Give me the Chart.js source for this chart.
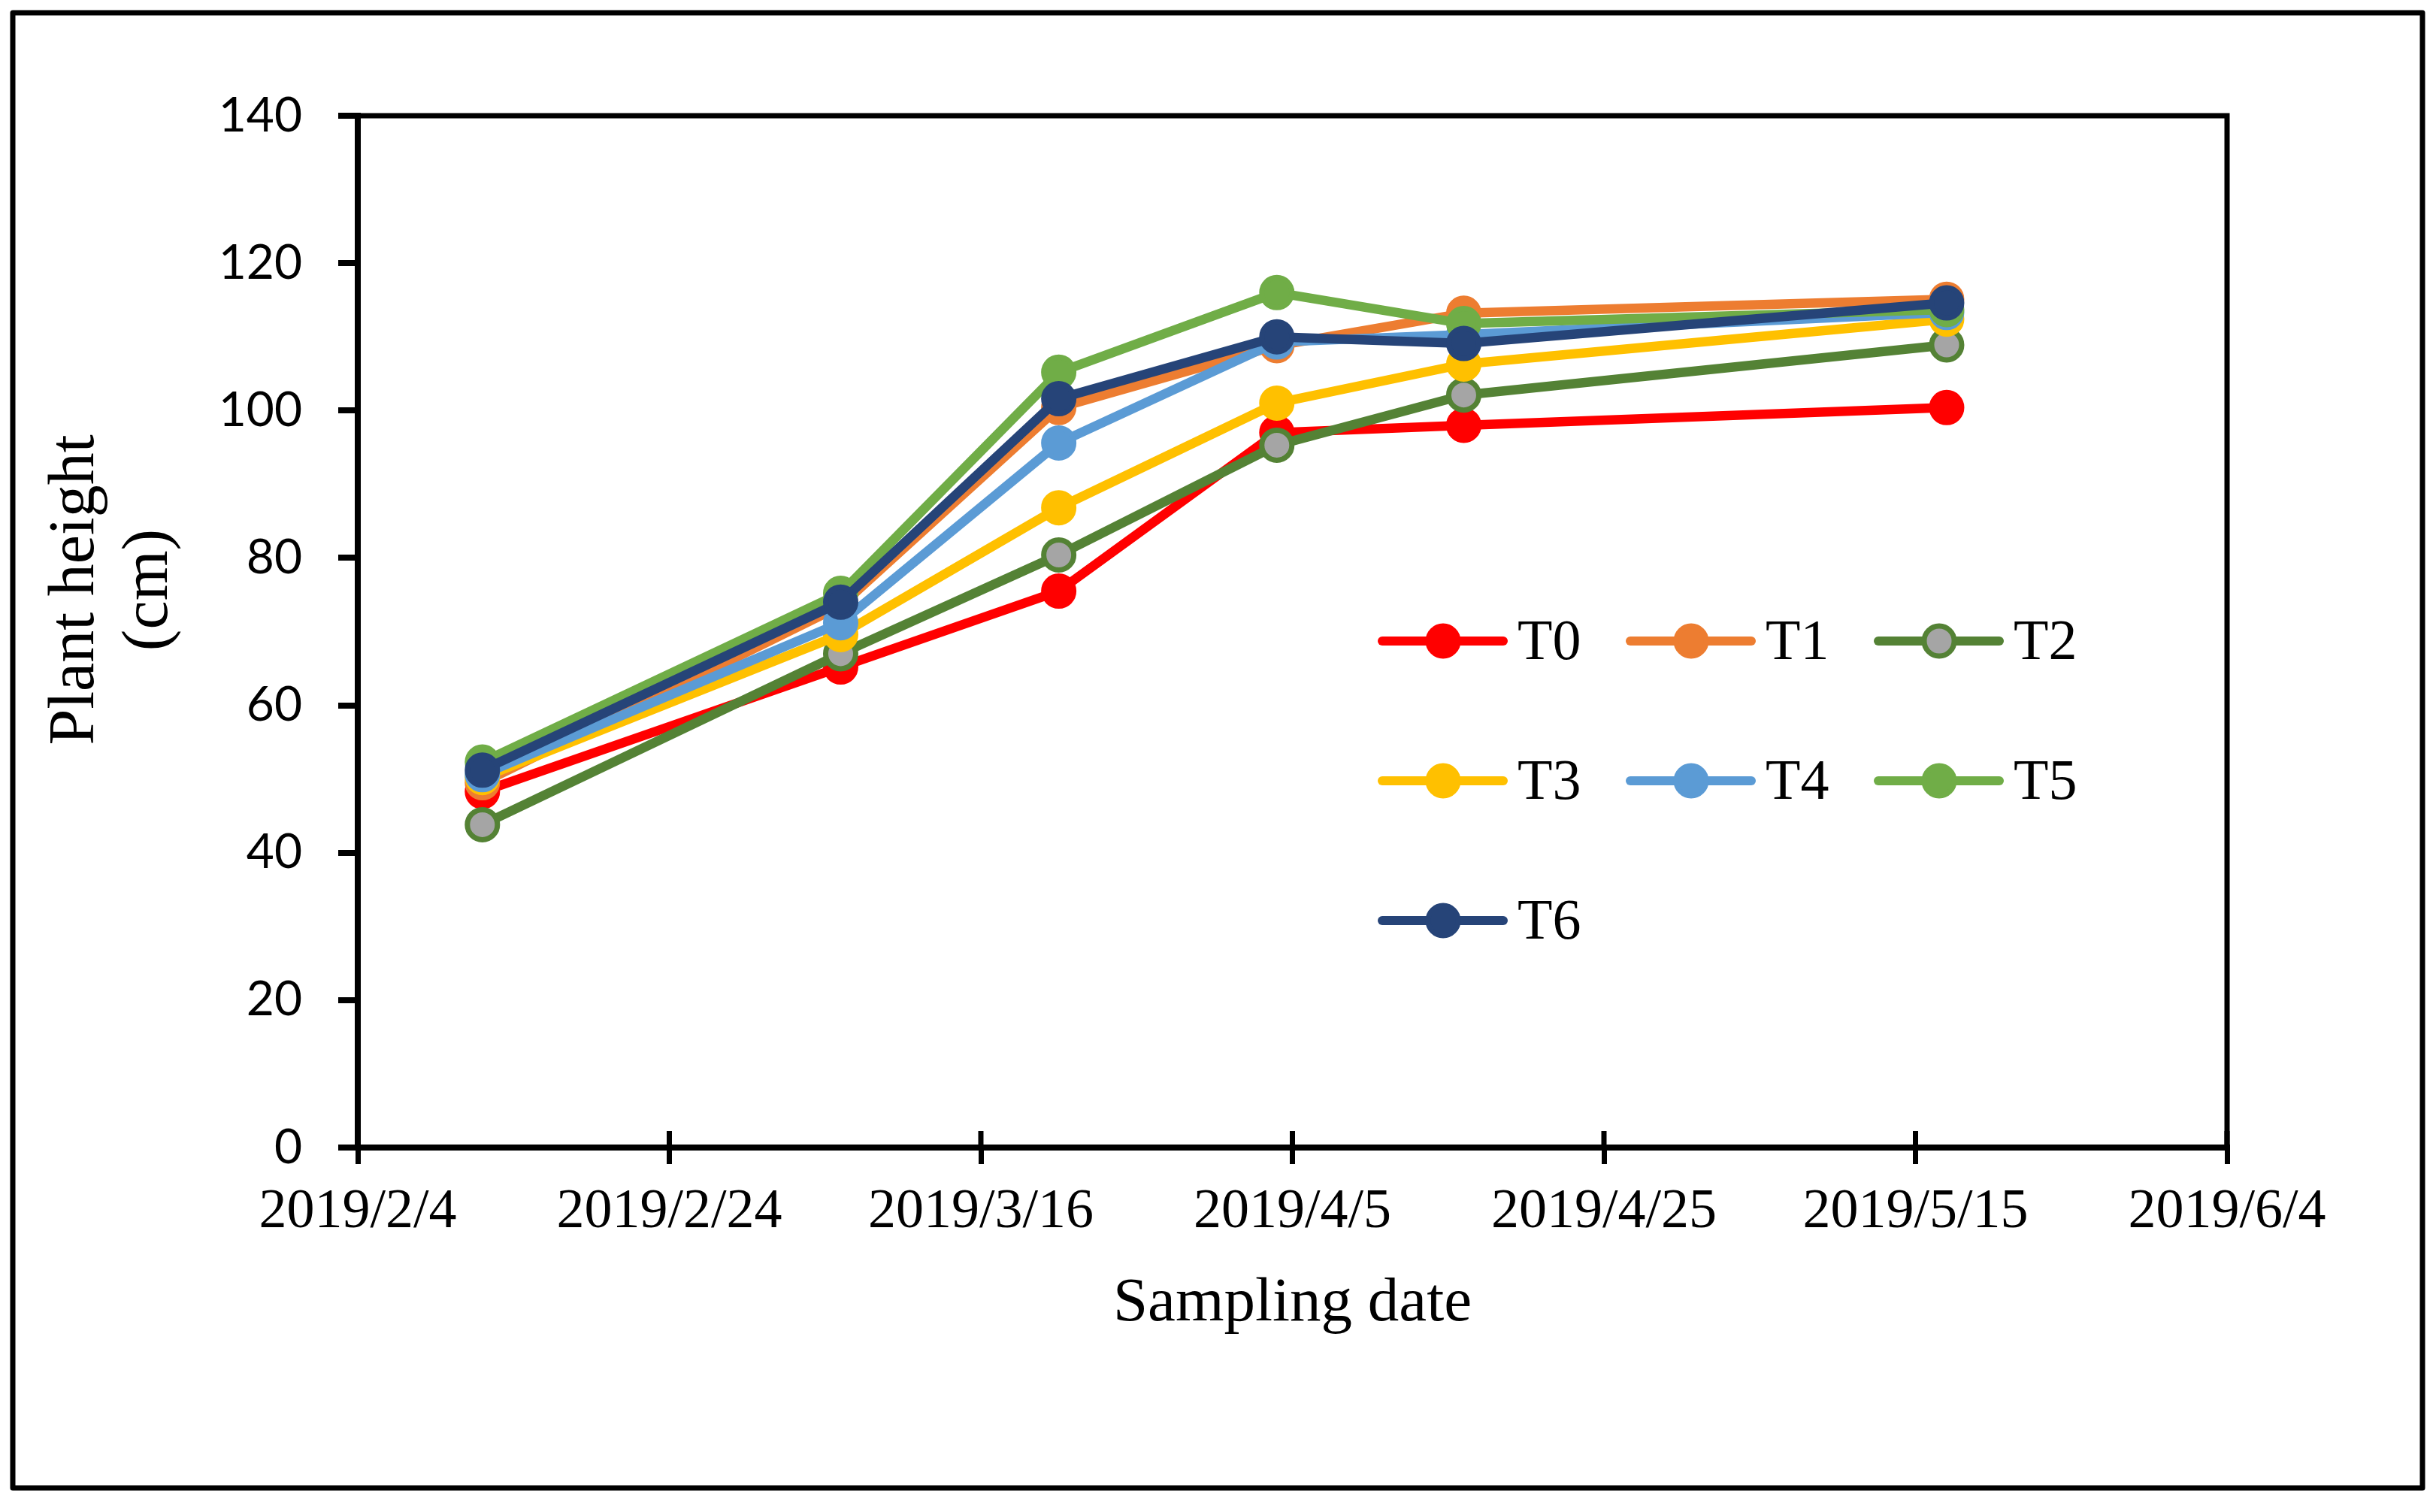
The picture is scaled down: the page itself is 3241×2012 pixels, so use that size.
<!DOCTYPE html>
<html>
<head>
<meta charset="utf-8">
<script src="https://cdn.jsdelivr.net/npm/chart.js@4.4.1/dist/chart.umd.min.js"></script>
<style>
html,body{margin:0;padding:0;background:#fff;}
#wrap{width:3241px;height:2012px;}
canvas{display:block;}
</style>
</head>
<body>
<div id="wrap"><canvas id="c" width="3241" height="2012"></canvas></div>
<script>
// ---------- data ----------
const axisStartDate = "2019-02-04";
const sampleDates = ["2019-02-12", "2019-03-07", "2019-03-21", "2019-04-04", "2019-04-16", "2019-05-17"];
const seriesNames = ["T0", "T1", "T2", "T3", "T4", "T5", "T6"];
const T0 = [48.3, 65.2, 75.5, 97.0, 98.0, 100.4];
const T1 = [49.5, 73.5, 100.4, 108.8, 113.2, 115.1];
const T2 = [43.8, 67.0, 80.4, 95.3, 102.1, 108.9];
const T3 = [50.2, 69.6, 86.8, 101.0, 106.3, 112.4];
const T4 = [50.6, 71.2, 95.6, 109.3, 110.3, 113.3];
const T5 = [52.3, 75.2, 105.2, 116.0, 111.8, 113.7];
const T6 = [51.2, 74.0, 101.6, 110.0, 109.1, 114.6];
const xTickLabels = ["2019/2/4", "2019/2/24", "2019/3/16", "2019/4/5", "2019/4/25", "2019/5/15", "2019/6/4"];
const yTickLabels = ["0", "20", "40", "60", "80", "100", "120", "140"];
const xTitle = "Sampling date";
const yTitleLines = ["Plant height", "(cm)"];

// ---------- styles ----------
const lineColors = ["#FF0000", "#ED7D31", "#548235", "#FFC000", "#5B9BD5", "#70AD47", "#264478"];
const fillColors = ["#FF0000", "#ED7D31", "#A5A5A5", "#FFC000", "#5B9BD5", "#70AD47", "#264478"];
const seriesValues = [T0, T1, T2, T3, T4, T5, T6];

function dayOffset(s) {
  const [y, m, d] = s.split("-").map(Number);
  const [y0, m0, d0] = axisStartDate.split("-").map(Number);
  return Math.round((Date.UTC(y, m - 1, d) - Date.UTC(y0, m0 - 1, d0)) / 86400000);
}
const xDays = sampleDates.map(dayOffset);

const datasets = seriesNames.map((name, i) => ({
  label: name,
  data: seriesValues[i].map((v, j) => ({ x: xDays[j], y: v })),
  borderColor: lineColors[i],
  backgroundColor: fillColors[i],
  borderWidth: 12.5,
  borderJoinStyle: "round",
  borderCapStyle: "round",
  pointRadius: 20,
  pointBorderWidth: 7,
  pointBackgroundColor: fillColors[i],
  pointBorderColor: lineColors[i],
  pointStyle: "circle",
  tension: 0,
  fill: false,
  order: seriesNames.length - 1 - i
}));

const SERIF = '"Liberation Serif", "Times New Roman", serif';

const decor = {
  id: "decor",
  beforeDraw(chart) {
    const ctx = chart.ctx;
    ctx.save();
    ctx.fillStyle = "#fff";
    ctx.fillRect(0, 0, chart.width, chart.height);
    ctx.strokeStyle = "#000";
    ctx.lineWidth = 7;
    ctx.lineJoin = "round";
    ctx.strokeRect(17, 17, 3223 - 17, 1980 - 17);
    ctx.restore();
  },
  afterDraw(chart) {
    const ctx = chart.ctx;
    const a = chart.chartArea;
    const xs = chart.scales.x;
    ctx.save();
    // top and right frame of plot area
    ctx.strokeStyle = "#000";
    ctx.lineWidth = 7;
    ctx.lineCap = "square";
    ctx.beginPath();
    ctx.moveTo(a.left, a.top);
    ctx.lineTo(a.right, a.top);
    ctx.lineTo(a.right, a.bottom);
    ctx.stroke();
    // inner half of x ticks
    ctx.lineCap = "butt";
    ctx.lineWidth = 7;
    xs.ticks.forEach(t => {
      const px = xs.getPixelForValue(t.value);
      ctx.beginPath();
      ctx.moveTo(px, a.bottom);
      ctx.lineTo(px, a.bottom - 22);
      ctx.stroke();
    });
    // axis titles
    ctx.fillStyle = "#000";
    ctx.textBaseline = "alphabetic";
    ctx.textAlign = "center";
    ctx.font = "83px " + SERIF;
    ctx.fillText(xTitle, (a.left + a.right) / 2, 1757);
    ctx.font = "86px " + SERIF;
    const yBase = [123.5, 222];
    yTitleLines.forEach((ln, k) => {
      ctx.save();
      ctx.translate(yBase[k], 785);
      ctx.rotate(-Math.PI / 2);
      ctx.fillText(ln, 0, 0);
      ctx.restore();
    });
    // legend
    ctx.textAlign = "left";
    ctx.font = "76px " + SERIF;
    chart.data.datasets.forEach((ds, i) => {
      const col = i % 3, row = Math.floor(i / 3);
      const x0 = 1833 + col * 330;
      const y = 853 + row * 186;
      ctx.strokeStyle = ds.borderColor;
      ctx.lineWidth = 12;
      ctx.lineCap = "round";
      ctx.beginPath();
      ctx.moveTo(x0 + 6, y);
      ctx.lineTo(x0 + 167, y);
      ctx.stroke();
      ctx.beginPath();
      ctx.arc(x0 + 87, y, ds.pointRadius, 0, Math.PI * 2);
      ctx.fillStyle = ds.pointBackgroundColor;
      ctx.fill();
      ctx.lineWidth = ds.pointBorderWidth;
      ctx.strokeStyle = ds.pointBorderColor;
      ctx.stroke();
      ctx.fillStyle = "#000";
      ctx.fillText(ds.label, x0 + 186, y + 24);
    });
    ctx.restore();
  }
};

function build() {
  new Chart(document.getElementById("c"), {
    type: "line",
    data: { datasets },
    plugins: [decor],
    options: {
      responsive: false,
      devicePixelRatio: 1,
      animation: false,
      layout: { padding: { left: 0, top: 154, right: 278, bottom: 0 } },
      plugins: { legend: { display: false }, tooltip: { enabled: false }, title: { display: false } },
      scales: {
        x: {
          type: "linear",
          min: 0,
          max: 120,
          ticks: {
            stepSize: 20,
            autoSkip: false,
            maxRotation: 0,
            padding: 20,
            color: "#000",
            font: { family: SERIF, size: 74 },
            callback: (v, i) => xTickLabels[i]
          },
          grid: { drawOnChartArea: false, drawTicks: true, tickLength: 22, color: "#000", lineWidth: 7 },
          border: { display: true, color: "#000", width: 8 },
          afterFit(s) { s.height = 485; }
        },
        y: {
          min: 0,
          max: 140,
          ticks: {
            stepSize: 20,
            padding: 48,
            color: "#000",
            font: { family: '"Lato", sans-serif', size: 64 },
            callback: (v, i) => yTickLabels[i]
          },
          grid: { drawOnChartArea: false, drawTicks: true, tickLength: 26, color: "#000", lineWidth: 8 },
          border: { display: true, color: "#000", width: 8 },
          afterFit(s) { s.width = 476; }
        }
      }
    }
  });
}

Promise.all([
  document.fonts.load('74px "Liberation Serif"'),
  document.fonts.load('64px "Lato"')
]).then(build, build);
</script>
</body>
</html>
